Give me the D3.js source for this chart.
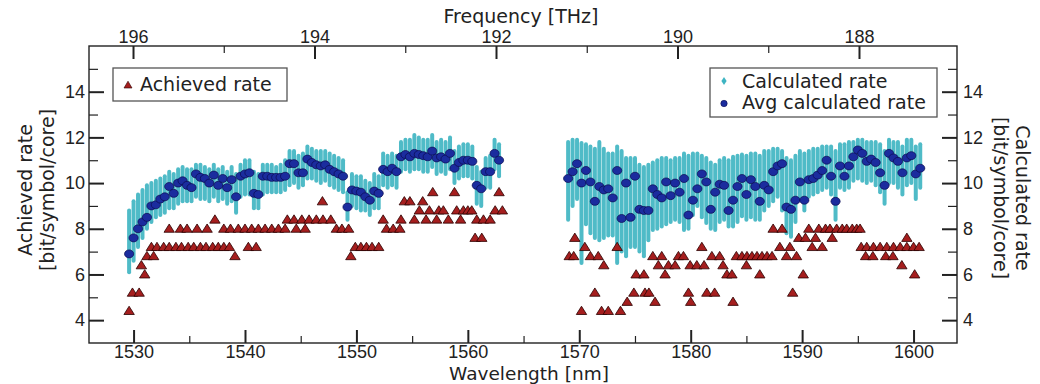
<!DOCTYPE html>
<html lang="en">
<head>
<meta charset="UTF-8">
<title>Achieved and calculated rate</title>
<script src="https://d3js.org/d3.v7.min.js"></script>
<style>
  body { margin: 0; background: #fff; }
  svg { font-family: "DejaVu Sans", Verdana, sans-serif; }
  text { fill: #222; font-size: 19px; }
  .major line { stroke: #222; stroke-width: 2; }
  .minor line { stroke: #222; stroke-width: 1.2; }
</style>
</head>
<body>
<script>
// channel grid (nm), C band then L band
const channelWl = [
  1529.6,1530.0,1530.4,1530.8,1531.2,1531.6,1532.0,1532.4,1532.8,1533.2,
  1533.6,1534.0,1534.4,1534.8,1535.2,1535.6,1536.0,1536.4,1536.8,1537.2,
  1537.6,1538.0,1538.4,1538.8,1539.2,1539.6,1540.0,1540.4,1540.8,1541.2,
  1541.6,1542.0,1542.4,1542.8,1543.2,1543.6,1544.0,1544.4,1544.8,1545.2,
  1545.6,1546.0,1546.4,1546.8,1547.2,1547.6,1548.0,1548.4,1548.8,1549.2,
  1549.6,1550.0,1550.4,1550.8,1551.2,1551.6,1552.0,1552.4,1552.8,1553.2,
  1553.6,1554.0,1554.4,1554.8,1555.2,1555.6,1556.0,1556.4,1556.8,1557.2,
  1557.6,1558.0,1558.4,1558.8,1559.2,1559.6,1560.0,1560.4,1560.8,1561.2,
  1561.6,1562.0,1562.4,1562.8,
  1569.0,1569.4,1569.8,1570.2,1570.6,1571.0,1571.4,1571.8,1572.2,1572.6,
  1573.0,1573.4,1573.8,1574.2,1574.6,1575.0,1575.4,1575.8,1576.2,1576.6,
  1577.0,1577.4,1577.8,1578.2,1578.6,1579.0,1579.4,1579.8,1580.2,1580.6,
  1581.0,1581.4,1581.8,1582.2,1582.6,1583.0,1583.4,1583.8,1584.2,1584.6,
  1585.0,1585.4,1585.8,1586.2,1586.6,1587.0,1587.4,1587.8,1588.2,1588.6,
  1589.0,1589.4,1589.8,1590.2,1590.6,1591.0,1591.4,1591.8,1592.2,1592.6,
  1593.0,1593.4,1593.8,1594.2,1594.6,1595.0,1595.4,1595.8,1596.2,1596.6,
  1597.0,1597.4,1597.8,1598.2,1598.6,1599.0,1599.4,1599.8,1600.2,1600.6
];

// avg calculated rate per channel
const avgRate = [
  6.9,7.6,8.0,8.3,8.5,9.0,9.05,9.3,9.4,9.85,
  9.55,10.0,10.1,9.9,9.8,10.4,10.25,10.2,10.0,10.35,
  9.9,10.2,9.8,10.15,9.4,10.3,10.4,10.45,9.55,9.5,
  10.3,10.3,10.25,10.25,10.25,10.3,10.85,10.85,10.45,10.45,
  11.05,10.9,10.8,10.75,10.8,10.6,10.5,10.4,10.3,8.95,
  9.7,9.65,9.6,9.4,9.25,9.65,9.55,10.6,10.5,10.65,
  10.5,11.15,11.25,11.15,11.3,11.25,11.2,11.15,11.4,11.1,
  11.15,11.05,11.3,10.65,10.9,11.0,11.0,10.95,9.9,9.75,
  10.5,10.5,11.3,11.0,
  10.2,10.5,10.85,10.0,10.55,10.05,9.2,9.85,9.7,9.75,
  9.35,10.55,8.45,10.0,8.5,10.3,8.85,8.8,8.8,9.75,
  9.5,9.35,10.05,9.45,10.0,9.6,10.2,8.6,9.25,9.75,
  10.4,10.05,8.85,9.6,9.95,9.9,8.8,9.25,9.85,10.2,
  9.5,10.15,9.85,9.2,9.9,9.7,10.5,10.75,10.85,8.95,
  8.85,9.25,10.05,9.25,10.15,10.2,10.35,10.55,11.0,10.3,
  9.2,10.75,10.3,10.75,11.15,11.45,11.3,10.95,11.05,10.9,
  10.45,9.9,11.3,11.1,10.95,10.45,11.1,11.2,10.4,10.65
];

// spread of the per-core calculated rate per channel
const calcHigh = [
  8.8,9.2,9.5,9.7,9.9,10.0,10.1,10.2,10.3,10.5,
  10.4,10.6,10.7,10.6,10.6,10.8,10.8,10.7,10.6,10.8,
  10.6,10.7,10.5,10.7,10.4,10.8,11.0,11.0,10.5,10.4,
  10.8,10.8,10.8,10.7,10.8,11.0,11.4,11.4,11.2,11.3,
  11.6,11.5,11.4,11.4,11.4,11.3,11.2,11.1,11.0,9.6,
  10.4,10.3,10.3,10.1,10.0,10.4,10.3,11.3,11.2,11.3,
  11.2,11.8,11.9,11.9,12.1,12.0,11.9,11.9,12.1,11.8,
  11.9,11.8,12.0,11.4,11.6,11.7,11.7,11.6,10.7,10.5,
  11.1,11.2,11.9,11.7,
  11.8,11.9,11.9,11.75,11.7,11.6,11.5,11.8,11.5,11.3,
  11.3,11.6,11.4,11.1,11.1,11.1,10.8,10.7,10.8,10.9,
  11.0,11.1,11.1,11.0,11.1,11.1,11.3,11.2,11.3,11.3,
  11.2,11.1,10.9,10.8,11.0,11.1,11.0,11.15,11.2,11.25,
  11.2,11.3,11.3,11.2,11.4,11.4,11.5,11.5,11.4,11.1,
  11.0,11.2,11.4,11.3,11.4,11.5,11.5,11.6,11.6,11.6,
  11.4,11.7,11.7,11.8,11.8,11.9,11.9,11.8,11.8,11.8,
  11.7,11.4,11.9,11.8,11.8,11.6,11.9,11.9,11.6,11.7
];
const calcLow = [
  6.1,6.6,7.2,7.6,8.0,8.3,8.5,8.6,8.7,8.9,
  8.9,9.1,9.2,9.2,9.2,9.4,9.3,9.3,9.2,9.4,
  9.2,9.3,9.1,9.2,8.7,9.4,9.5,9.5,8.9,8.9,
  9.5,9.6,9.6,9.6,9.6,9.7,9.9,10.0,9.8,9.9,
  10.2,10.2,10.1,10.0,10.1,9.9,9.8,9.7,9.6,8.4,
  9.0,8.9,8.8,8.8,8.6,8.9,8.9,9.9,9.8,9.9,
  9.8,10.5,10.6,10.5,10.6,10.6,10.5,10.5,10.7,10.4,
  10.5,10.4,10.6,10.0,10.2,10.3,10.3,10.2,9.1,9.0,
  9.8,9.8,10.6,10.3,
  8.4,9.0,9.3,6.5,8.2,7.8,7.6,7.5,7.6,7.7,
  7.7,6.5,7.0,6.8,7.2,7.2,7.0,6.8,7.5,7.95,
  8.0,8.1,8.2,8.3,8.4,8.3,7.95,8.0,8.6,9.0,
  8.5,8.25,8.0,7.95,8.3,8.4,8.1,8.1,8.3,8.55,
  8.4,8.5,8.4,8.4,8.8,9.0,9.2,9.4,8.8,7.8,
  7.65,8.3,9.3,8.8,9.4,9.5,9.6,9.7,9.8,9.5,
  8.4,9.8,9.7,9.8,10.1,10.2,10.1,10.0,10.1,9.9,
  9.6,9.1,10.0,10.0,9.8,9.5,9.9,10.0,9.3,9.8
];

// achieved rate: [wavelength nm, bit/symbol/core]
const achieved = [
  [1529.6,4.4],[1529.9,5.2],[1530.5,5.2],[1530.7,6.4],[1531.0,6.0],
  [1531.2,6.8],[1531.8,6.8],[1539.1,6.8],[1549.5,6.8],
  [1531.6,7.2],[1532.1,7.2],[1532.7,7.2],[1533.2,7.2],[1533.8,7.2],[1534.3,7.2],[1534.9,7.2],
  [1535.4,7.2],[1536.0,7.2],[1536.5,7.2],[1537.1,7.2],[1537.6,7.2],[1538.1,7.2],[1538.6,7.2],
  [1540.3,7.2],[1541.0,7.2],[1549.9,7.2],[1550.4,7.2],[1550.9,7.2],[1551.4,7.2],[1552.0,7.2],
  [1533.2,8.0],[1534.2,8.0],[1534.8,8.0],[1535.7,8.0],[1536.6,8.0],[1538.1,8.0],[1538.7,8.0],
  [1539.4,8.0],[1540.0,8.0],[1540.6,8.0],[1541.2,8.0],[1541.8,8.0],[1542.4,8.0],[1543.0,8.0],
  [1543.6,8.0],[1544.6,8.0],[1545.4,8.0],[1548.2,8.0],[1548.7,8.0],[1549.3,8.0],[1552.7,8.0],
  [1553.3,8.0],[1553.9,8.0],
  [1537.3,8.4],[1543.8,8.4],[1544.4,8.4],[1545.1,8.4],[1545.75,8.4],[1546.4,8.4],[1547.0,8.4],
  [1547.7,8.4],[1552.4,8.4],[1554.0,8.4],[1555.2,8.4],[1556.25,8.4],[1557.2,8.4],[1558.25,8.4],
  [1559.35,8.4],[1560.8,8.4],[1561.4,8.4],[1562.0,8.4],
  [1555.65,8.8],[1556.55,8.8],[1557.4,8.8],[1557.8,8.8],[1559.0,8.8],[1559.6,8.8],[1560.0,8.8],
  [1560.35,8.8],[1562.45,8.8],[1563.1,8.8],
  [1546.95,9.2],[1554.3,9.2],[1554.8,9.2],[1555.95,9.2],
  [1556.85,9.6],[1558.8,9.6],[1562.8,9.6],
  [1560.65,7.6],[1561.25,7.6],
  [1570.2,4.4],[1572.0,4.4],[1572.6,4.4],[1573.7,4.4],
  [1574.3,4.8],[1576.8,4.8],[1580.0,4.8],[1583.8,4.8],
  [1571.4,5.2],[1574.9,5.2],[1575.9,5.2],[1576.25,5.2],[1579.8,5.2],[1581.45,5.2],[1582.15,5.2],
  [1589.15,5.2],
  [1575.1,6.0],[1575.8,6.0],[1577.7,6.0],[1583.25,6.0],[1583.7,6.0],[1586.2,6.0],[1590.1,6.0],
  [1600.1,6.0],
  [1572.2,6.4],[1577.1,6.4],[1578.0,6.4],[1578.6,6.4],[1579.95,6.4],[1580.55,6.4],[1581.2,6.4],
  [1582.9,6.4],[1585.0,6.4],[1598.95,6.4],
  [1569.1,6.8],[1569.5,6.8],[1571.0,6.8],[1571.7,6.8],[1576.6,6.8],[1577.4,6.8],[1578.9,6.8],
  [1579.35,6.8],[1581.9,6.8],[1582.6,6.8],[1584.1,6.8],[1584.6,6.8],[1585.05,6.8],[1585.5,6.8],
  [1585.95,6.8],[1586.4,6.8],[1586.85,6.8],[1587.3,6.8],[1588.6,6.8],[1589.5,6.8],[1595.7,6.8],
  [1596.35,6.8],[1597.5,6.8],[1598.15,6.8],
  [1570.5,7.2],[1573.4,7.2],[1581.0,7.2],[1588.0,7.2],[1588.9,7.2],[1590.9,7.2],[1591.8,7.2],
  [1595.3,7.2],[1595.8,7.2],[1596.4,7.2],[1597.0,7.2],[1597.6,7.2],[1598.2,7.2],[1598.8,7.2],
  [1599.4,7.2],[1600.0,7.2],[1600.5,7.2],
  [1569.6,7.6],[1589.7,7.6],[1590.3,7.6],[1591.2,7.6],[1592.7,7.6],[1599.4,7.6],
  [1587.4,8.0],[1588.2,8.0],[1590.6,8.0],[1591.5,8.0],[1592.1,8.0],[1592.5,8.0],[1593.1,8.0],
  [1593.6,8.0],[1594.0,8.0],[1594.5,8.0],[1594.9,8.0],[1595.2,8.0]
];

// ticks
const wlMajor = [1530, 1540, 1550, 1560, 1570, 1580, 1590, 1600];
const wlMinor = [1535, 1545, 1555, 1565, 1575, 1585, 1595];
const thzMajor = [196, 194, 192, 190, 188];
const thzMinor = [195, 193, 191, 189];
const rateMajor = [4, 6, 8, 10, 12, 14];
const rateMinor = [5, 7, 9, 11, 13, 15];

const colCalc = "#3db4c2", colAvg = "#1b2c9e", colAvgEdge = "#0b0b50";
const colAch = "#a51e1e", colAchEdge = "#2a0000";

const W = 1040, H = 384;
const margin = { top: 46, right: 83, bottom: 41, left: 89 };
const width = W - margin.left - margin.right;
const height = H - margin.top - margin.bottom;

const svg = d3.select("body").append("svg")
    .attr("width", W)
    .attr("height", H);

const g = svg.append("g")
    .attr("transform", `translate(${margin.left},${margin.top})`);

const x = d3.scaleLinear().domain([1526, 1603.9]).range([0, width]);
const xTop = d3.scaleLinear().domain([196.485, 186.92]).range([0, width]);
const y = d3.scaleLinear().domain([3, 16]).range([height, 0]);

// calculated rate spread (per-core values of each channel)
g.append("g")
    .selectAll("line")
    .data(channelWl)
    .join("line")
    .attr("x1", d => x(d))
    .attr("x2", d => x(d))
    .attr("y1", (d, i) => y(calcLow[i]))
    .attr("y2", (d, i) => y(calcHigh[i]))
    .attr("stroke", colCalc)
    .attr("stroke-width", 4)
    .attr("stroke-linecap", "round")
    .attr("opacity", 0.9);

// avg calculated rate
g.append("g")
    .selectAll("ellipse")
    .data(channelWl)
    .join("ellipse")
    .attr("cx", d => x(d))
    .attr("cy", (d, i) => y(avgRate[i]))
    .attr("rx", 4.6)
    .attr("ry", 4)
    .attr("fill", colAvg)
    .attr("stroke", colAvgEdge)
    .attr("stroke-width", 0.7);

// achieved rate
const tri = "M0,-4.8L5.2,3.5L-5.2,3.5Z";
g.append("g")
    .selectAll("path")
    .data(achieved)
    .join("path")
    .attr("d", tri)
    .attr("transform", d => `translate(${x(d[0])},${y(d[1])})`)
    .attr("fill", colAch)
    .attr("stroke", colAchEdge)
    .attr("stroke-width", 0.8);

// axes, ticks point inwards
function styleAxis(sel) {
    sel.select(".domain").remove();
    sel.selectAll("text").style("font-size", "18px").attr("fill", "#222");
}

g.append("g").attr("class", "major")
    .attr("transform", `translate(0,${height})`)
    .call(d3.axisBottom(x).tickValues(wlMajor).tickSize(-13).tickPadding(2).tickFormat(d3.format("d")))
    .call(styleAxis);
g.append("g").attr("class", "minor")
    .attr("transform", `translate(0,${height})`)
    .call(d3.axisBottom(x).tickValues(wlMinor).tickSize(-7).tickFormat(""))
    .call(styleAxis);

g.append("g").attr("class", "major")
    .call(d3.axisTop(xTop).tickValues(thzMajor).tickSize(-13).tickPadding(3).tickFormat(d3.format("d")))
    .call(styleAxis);
g.append("g").attr("class", "minor")
    .call(d3.axisTop(xTop).tickValues(thzMinor).tickSize(-7).tickFormat(""))
    .call(styleAxis);

g.append("g").attr("class", "major")
    .call(d3.axisLeft(y).tickValues(rateMajor).tickSize(-15).tickPadding(4))
    .call(styleAxis);
g.append("g").attr("class", "minor")
    .call(d3.axisLeft(y).tickValues(rateMinor).tickSize(-9).tickFormat(""))
    .call(styleAxis);

g.append("g").attr("class", "major")
    .attr("transform", `translate(${width},0)`)
    .call(d3.axisRight(y).tickValues(rateMajor).tickSize(-15).tickPadding(6))
    .call(styleAxis);
g.append("g").attr("class", "minor")
    .attr("transform", `translate(${width},0)`)
    .call(d3.axisRight(y).tickValues(rateMinor).tickSize(-9).tickFormat(""))
    .call(styleAxis);

g.append("rect")
    .attr("width", width)
    .attr("height", height)
    .attr("fill", "none")
    .attr("stroke", "#222")
    .attr("stroke-width", 1.4);

// axis titles
svg.append("text").attr("x", 521).attr("y", 23).attr("text-anchor", "middle").text("Frequency [THz]");
svg.append("text").attr("x", 529).attr("y", 379.5).attr("text-anchor", "middle")
    .style("font-size", "18.5px").text("Wavelength [nm]");

svg.append("text").attr("transform", "translate(32,190) rotate(-90)").attr("text-anchor", "middle").text("Achieved rate");
svg.append("text").attr("transform", "translate(54,190) rotate(-90)").attr("text-anchor", "middle").text("[bit/symbol/core]");
svg.append("text").attr("transform", "translate(1016,198) rotate(90)").attr("text-anchor", "middle").text("Calculated rate");
svg.append("text").attr("transform", "translate(994,198) rotate(90)").attr("text-anchor", "middle").text("[bit/symbol/core]");

// legends
const legL = svg.append("g");
legL.append("rect").attr("x", 113).attr("y", 68).attr("width", 174).attr("height", 33)
    .attr("fill", "#fff").attr("stroke", "#555").attr("stroke-width", 1.3);
legL.append("path").attr("d", "M0,-3.8L4,3L-4,3Z").attr("transform", "translate(128,85)")
    .attr("fill", colAch).attr("stroke", colAchEdge).attr("stroke-width", 0.6);
legL.append("text").attr("x", 140).attr("y", 91).text("Achieved rate");

const legR = svg.append("g");
legR.append("rect").attr("x", 710).attr("y", 68).attr("width", 227).attr("height", 49)
    .attr("fill", "#fff").attr("stroke", "#555").attr("stroke-width", 1.3);
legR.append("path").attr("d", "M0,-4L2.6,0L0,4L-2.6,0Z").attr("transform", "translate(724,81)")
    .attr("fill", colCalc);
legR.append("text").attr("x", 742).attr("y", 87.5).text("Calculated rate");
legR.append("circle").attr("cx", 724).attr("cy", 103.5).attr("r", 3.2)
    .attr("fill", colAvg).attr("stroke", colAvgEdge).attr("stroke-width", 0.6);
legR.append("text").attr("x", 742).attr("y", 108.5).text("Avg calculated rate");
</script>
</body>
</html>
